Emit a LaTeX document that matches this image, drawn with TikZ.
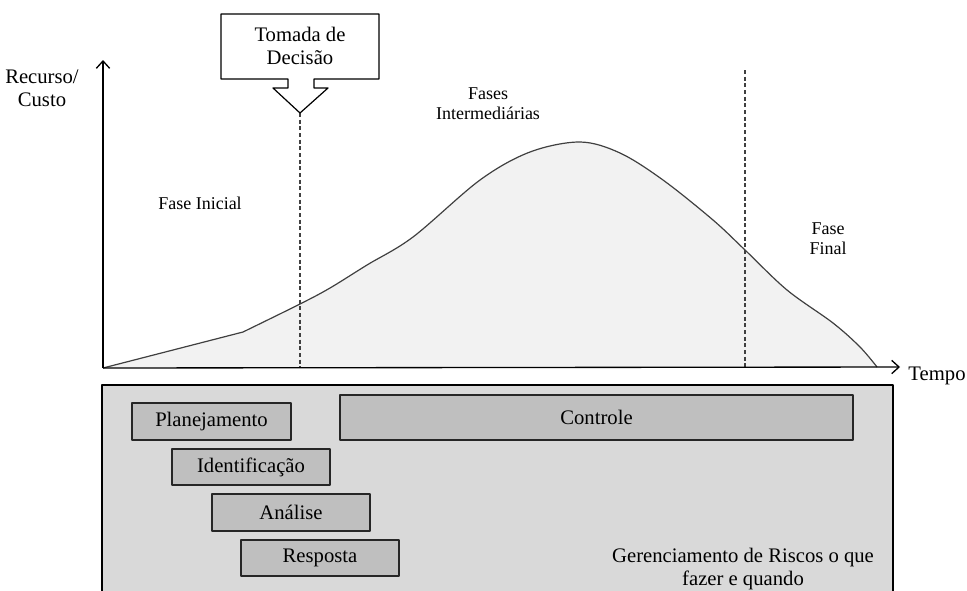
\documentclass[tikz,border=0pt]{standalone}
\usepackage{fontspec}
\setmainfont{Liberation Serif}
\usetikzlibrary{arrows.meta}
\definecolor{curvefill}{HTML}{F2F2F2}
\definecolor{panelfill}{HTML}{D9D9D9}
\definecolor{boxfill}{HTML}{BFBFBF}
\definecolor{linegray}{HTML}{404040}
\begin{document}
\begin{tikzpicture}[x=0.75pt, y=-0.75pt, line join=round, >={Straight Barb[length=5.5pt, width=10pt]},
		big/.style={font=\fontsize{15.5}{17.5}\selectfont, align=center, inner sep=0pt},
		small/.style={font=\fontsize{13.5}{15}\selectfont, align=center, inner sep=0pt},
		riskbox/.style={draw=black!85, fill=boxfill, line width=0.9pt, inner sep=0pt, font=\fontsize{15.5}{17.5}\selectfont},
		phase/.style={dash pattern=on 3pt off 2pt, draw=linegray, line width=0.8pt}]
			\useasboundingbox (0,0) rectangle (967,590);
			
			\coordinate (O) at (103,368);
			\coordinate (Y) at (103,60);
			\coordinate (X) at (900,367);
			\coordinate (D) at (300,113);
			\coordinate (Dbase) at (300,367);
			\coordinate (F) at (745,70);
			\coordinate (Fbase) at (745,367);
			
			% area under the curve
			\fill[curvefill] (O) -- (243,332) -- plot[smooth, tension=0.55] coordinates {(243,332) (300,304) (330,288) (367,265) (413,237) (480,180) (530,152) (580,142) (620,153) (663,180) (713,220) (745,250) (787,290) (833,323) (860,347) (877,367)} -- cycle;
			
			\draw[phase] (D) -- (Dbase);
			\draw[phase] (F) -- (Fbase);
			
			\draw[linegray, line width=0.9pt] (O) -- (243,332) -- plot[smooth, tension=0.55] coordinates {(243,332) (300,304) (330,288) (367,265) (413,237) (480,180) (530,152) (580,142) (620,153) (663,180) (713,220) (745,250) (787,290) (833,323) (860,347) (877,367)};
			
			% axes
			\draw[->, line width=1pt] (O) -- (Y);
			\draw[->, line width=1pt] (O) -- (X);
			\node[big] (recurso) at (42,88) {Recurso/\\Custo};
			\node[big] (tempo) at (937,376) {Tempo};
			
			% decision callout
			\draw[fill=white, line width=0.9pt] (221,14) -- (379,14) -- (379,79) -- (314,79) -- (314,88) -- (328,88) -- (D) -- (273,88) -- (288,88) -- (288,79) -- (221,79) -- cycle;
			\node[big] (decisao) at (300,46) {Tomada de\\Decisão};
			
			\node[small] (inicial) at (200,203) {Fase Inicial};
			\node[small] (inter) at (488,104) {Fases\\Intermediárias};
			\node[small] (final) at (828,239) {Fase\\Final};
			
			% risk management panel
			\fill[panelfill] (102,385) rectangle (893,595);
			\draw[line width=1pt] (102,595) -- (102,385) -- (893,385) -- (893,595);
			
			\node[riskbox, minimum width=119.25pt, minimum height=27.75pt] (plan) at (211.5,421.5) {Planejamento};
			\node[riskbox, minimum width=118.5pt, minimum height=27pt] (ident) at (251,467) {Identificação};
			\node[riskbox, minimum width=118.5pt, minimum height=27.75pt] (anal) at (291,512.5) {Análise};
			\node[riskbox, minimum width=118.5pt, minimum height=27pt] (resp) at (320,558) {Resposta};
			\node[riskbox, minimum width=384.75pt, minimum height=33.75pt] (ctrl) at (596.5,417.5) {Controle};
			
			\node[big] (geren) at (743,569) {Gerenciamento de Riscos o que\\fazer e quando};
		\end{tikzpicture}
\end{document}
